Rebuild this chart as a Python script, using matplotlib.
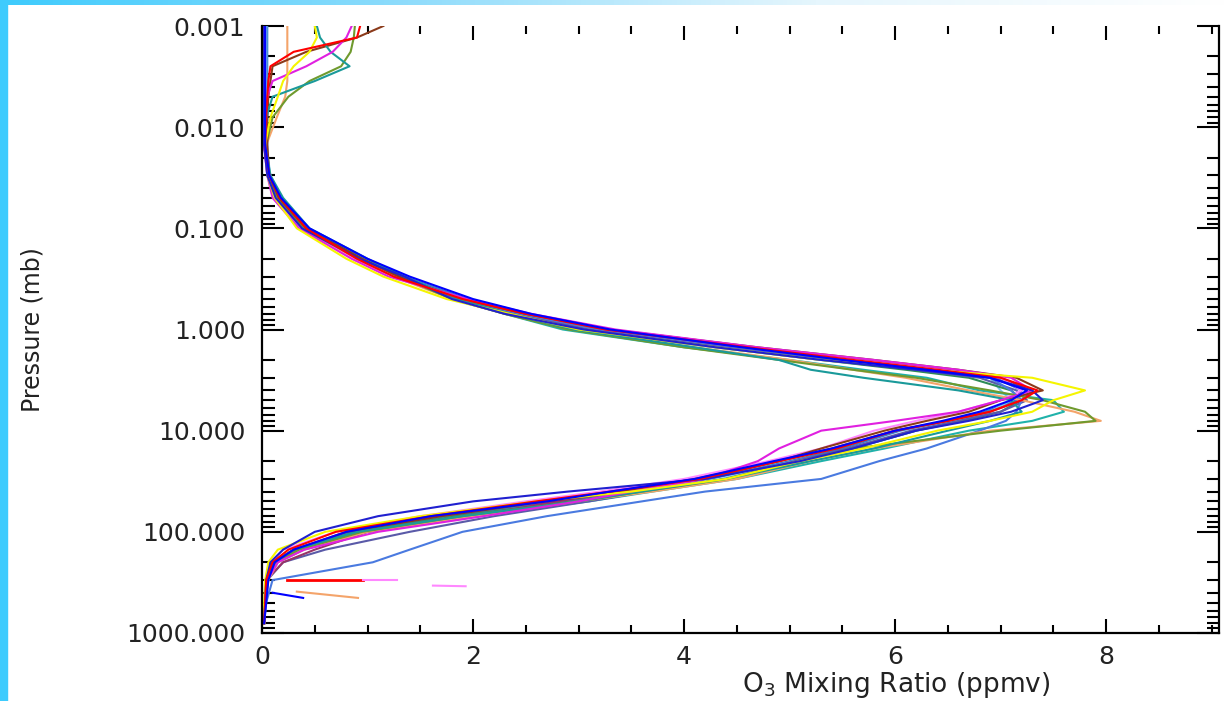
import matplotlib
matplotlib.use('Agg')
import matplotlib.pyplot as plt
import numpy as np
from matplotlib.patches import Rectangle
from matplotlib.colors import LinearSegmentedColormap
from matplotlib.ticker import FixedLocator, LogLocator, NullFormatter, MultipleLocator

# pressure levels (mb) shared by all profiles
pressure = [0.001, 0.0013, 0.0018, 0.0025, 0.0035, 0.005, 0.008, 0.015,
            0.03, 0.05, 0.1, 0.2, 0.3, 0.5, 0.7,
            1.0, 1.5, 2.0, 2.5, 3.0, 4.0, 5.0, 6.5, 8.0,
            10, 15, 20, 30, 40, 50, 70, 100, 150, 200, 300, 500, 800]

# O3 mixing ratio (ppmv) for each profile
o3_red = [0.93, 0.90, 0.30, 0.08, 0.06, 0.05, 0.04, 0.03,
          0.07, 0.17, 0.42, 0.90, 1.25, 1.90, 2.50,
          3.25, 4.60, 5.60, 6.40, 7.00, 7.35, 7.20, 6.90, 6.50,
          6.00, 5.45, 4.90, 4.15, 3.30, 2.60, 1.60, 0.70, 0.25, 0.10, 0.04, 0.03, 0.02]
o3_blue = [0.03, 0.03, 0.03, 0.03, 0.03, 0.03, 0.03, 0.03,
           0.07, 0.18, 0.45, 1.00, 1.40, 2.00, 2.55,
           3.30, 4.55, 5.50, 6.30, 6.90, 7.25, 7.10, 6.80, 6.45,
           6.00, 5.40, 4.85, 4.10, 3.30, 2.70, 1.60, 0.80, 0.30, 0.12, 0.06, 0.04, 0.02]
o3_blue2 = [0.02, 0.02, 0.02, 0.02, 0.02, 0.02, 0.02, 0.02,
            0.05, 0.13, 0.38, 0.92, 1.35, 1.80, 2.30,
            3.05, 4.30, 5.30, 6.20, 6.90, 7.30, 7.40, 7.10, 6.70,
            6.20, 5.60, 5.10, 4.20, 2.90, 2.00, 1.10, 0.50, 0.20, 0.08, 0.04, 0.03, 0.02]
o3_yellow = [0.50, 0.52, 0.45, 0.30, 0.20, 0.15, 0.08, 0.03,
             0.05, 0.12, 0.33, 0.80, 1.15, 1.75, 2.35,
             3.00, 4.30, 5.30, 6.30, 7.30, 7.80, 7.50, 7.30, 6.90,
             6.40, 5.70, 5.10, 4.40, 3.50, 2.60, 1.50, 0.60, 0.15, 0.06, 0.03, 0.02, 0.02]
o3_magenta = [0.85, 0.80, 0.67, 0.42, 0.10, 0.05, 0.03, 0.02,
              0.05, 0.10, 0.35, 0.85, 1.20, 1.95, 2.55,
              3.35, 4.70, 5.80, 6.60, 7.10, 7.30, 7.00, 6.60, 6.00,
              5.30, 4.90, 4.70, 4.20, 3.50, 3.00, 2.10, 1.10, 0.40, 0.15, 0.05, 0.03, 0.02]
o3_teal = [0.52, 0.55, 0.65, 0.83, 0.50, 0.10, 0.04, 0.03,
           0.08, 0.20, 0.45, 1.00, 1.35, 1.85, 2.35,
           2.95, 4.10, 4.90, 5.20, 5.70, 6.60, 7.10, 7.20, 6.90,
           6.50, 5.80, 5.20, 4.40, 3.60, 3.00, 1.90, 0.90, 0.30, 0.12, 0.05, 0.03, 0.02]
o3_brown = [1.15, 0.90, 0.42, 0.10, 0.08, 0.06, 0.05, 0.05,
            0.07, 0.16, 0.42, 0.95, 1.30, 1.90, 2.50,
            3.30, 4.70, 5.80, 6.60, 7.15, 7.40, 7.00, 6.70, 6.30,
            5.90, 5.30, 4.90, 4.10, 3.40, 2.70, 1.70, 0.80, 0.30, 0.10, 0.04, 0.03, 0.02]
o3_olive = [0.88, 0.87, 0.84, 0.75, 0.45, 0.25, 0.10, 0.04,
            0.06, 0.15, 0.40, 0.95, 1.30, 1.80, 2.30,
            2.90, 4.00, 4.90, 5.60, 6.20, 6.90, 7.40, 7.80, 7.90,
            7.00, 5.60, 5.10, 4.40, 3.60, 3.00, 1.90, 0.95, 0.35, 0.13, 0.05, 0.03, 0.02]
o3_peach = [0.24, 0.24, 0.24, 0.24, 0.24, 0.22, 0.14, 0.04,
            0.06, 0.14, 0.38, 0.90, 1.25, 1.80, 2.30,
            2.95, 4.10, 5.00, 5.60, 6.10, 6.70, 7.20, 7.70, 7.95,
            6.90, 5.80, 5.20, 4.50, 3.70, 3.00, 2.00, 1.00, 0.40, 0.15, 0.06, 0.03, 0.02]
o3_skyblue = [0.04, 0.04, 0.04, 0.04, 0.04, 0.04, 0.04, 0.04,
              0.08, 0.18, 0.43, 0.98, 1.33, 1.88, 2.45,
              3.15, 4.45, 5.45, 6.30, 6.90, 7.00, 7.10, 6.90, 6.60,
              6.20, 5.60, 5.05, 4.35, 3.60, 3.00, 2.00, 1.00, 0.40, 0.15, 0.06, 0.03, 0.02]
o3_cornflower = [0.03, 0.03, 0.03, 0.03, 0.03, 0.03, 0.03, 0.03,
                 0.07, 0.16, 0.42, 0.97, 1.32, 1.90, 2.45,
                 3.20, 4.50, 5.50, 6.30, 6.90, 7.10, 7.20, 7.15, 7.05,
                 6.80, 6.30, 5.85, 5.30, 4.20, 3.60, 2.70, 1.90, 1.40, 1.05, 0.10, 0.04, 0.02]
o3_pink = [0.02, 0.02, 0.02, 0.02, 0.02, 0.02, 0.02, 0.02,
           0.05, 0.12, 0.36, 0.88, 1.25, 1.90, 2.50,
           3.30, 4.65, 5.70, 6.50, 7.00, 7.20, 7.00, 6.60, 6.20,
           5.80, 5.30, 4.80, 4.00, 3.20, 2.50, 1.50, 0.70, 0.20, 0.08, 0.04, 0.03, 0.02]
o3_purple = [0.02, 0.02, 0.02, 0.02, 0.02, 0.02, 0.02, 0.02,
             0.06, 0.15, 0.40, 0.95, 1.30, 1.90, 2.50,
             3.20, 4.50, 5.60, 6.50, 7.00, 7.30, 7.20, 6.90, 6.50,
             6.00, 5.40, 4.90, 4.20, 3.40, 2.80, 2.00, 1.00, 0.50, 0.20, 0.04, 0.03, 0.02]
o3_slate = [0.02, 0.02, 0.02, 0.02, 0.02, 0.02, 0.02, 0.02,
            0.06, 0.16, 0.41, 0.96, 1.30, 1.85, 2.40,
            3.10, 4.40, 5.40, 6.20, 6.80, 7.15, 7.25, 7.00, 6.60,
            6.15, 5.55, 5.05, 4.40, 3.65, 3.10, 2.20, 1.40, 0.60, 0.20, 0.05, 0.03, 0.02]
o3_green = [0.02, 0.02, 0.02, 0.02, 0.02, 0.02, 0.02, 0.02,
            0.06, 0.14, 0.39, 0.93, 1.28, 1.82, 2.35,
            3.00, 4.30, 5.30, 6.10, 6.70, 7.10, 7.20, 7.00, 6.65,
            6.20, 5.60, 5.10, 4.40, 3.60, 2.95, 1.85, 0.90, 0.32, 0.12, 0.05, 0.03, 0.02]
o3_seagreen = [0.02, 0.02, 0.02, 0.02, 0.02, 0.02, 0.02, 0.02,
               0.07, 0.17, 0.44, 0.98, 1.32, 1.82, 2.30,
               2.85, 4.00, 5.00, 5.70, 6.30, 6.80, 7.50, 7.60, 7.30,
               6.70, 5.90, 5.30, 4.50, 3.70, 3.10, 2.00, 1.00, 0.35, 0.14, 0.05, 0.03, 0.02]
o3_steelblue = [0.05, 0.05, 0.05, 0.05, 0.05, 0.05, 0.05, 0.05,
                0.06, 0.15, 0.41, 0.97, 1.35, 1.95, 2.50,
                3.25, 4.55, 5.55, 6.35, 6.95, 7.20, 7.15, 6.85, 6.50,
                6.05, 5.50, 5.00, 4.25, 3.45, 2.85, 1.75, 0.85, 0.30, 0.12, 0.05, 0.03, 0.02]

profiles = [
    (o3_steelblue, '#3a7fc8'), (o3_skyblue, '#7ec8e8'), (o3_green, '#2e8b57'),
    (o3_seagreen, '#20b2aa'), (o3_slate, '#5a5aa8'), (o3_purple, '#993366'),
    (o3_pink, '#ff88ff'), (o3_cornflower, '#4a7ae0'), (o3_peach, '#f4a46a'),
    (o3_olive, '#6f9a2e'), (o3_brown, '#8b3a1a'), (o3_teal, '#1a9a9a'),
    (o3_magenta, '#e020e0'), (o3_yellow, '#f5f500'), (o3_blue2, '#2020d0'),
    (o3_red, '#ff0000'), (o3_blue, '#0000ff'),
]

# stray near-surface segments
red_tail_p, red_tail_x = [298, 298], [0.24, 0.96]
pink_tail_p, pink_tail_x = [300, 300], [0.96, 1.28]
pink_tail2_p, pink_tail2_x = [340, 345], [1.62, 1.93]
peach_tail_p, peach_tail_x = [390, 450], [0.33, 0.91]
blue_tail_p, blue_tail_x = [400, 450], [0.10, 0.39]

ytick_vals = [0.001, 0.01, 0.1, 1, 10, 100, 1000]
ytick_labels = ['0.001', '0.010', '0.100', '1.000', '10.000', '100.000', '1000.000']
xtick_vals = [0, 2, 4, 6, 8]

W, H = 1229, 701
fig = plt.figure(figsize=(W / 100, H / 100), dpi=100)

# cyan frame on the left and top
fig.patches.append(Rectangle((0, 0), 7 / W, 1, transform=fig.transFigure,
                             color='#3ecbfd', zorder=5))
bar = fig.add_axes([0, 1 - 5 / H, 1, 5 / H])
cmap = LinearSegmentedColormap.from_list('bar', ['#3ecbfd', '#8fdcfb', '#e6f6fd', '#ffffff'])
bar.imshow(np.linspace(0, 1, 256)[None, :], aspect='auto', cmap=cmap)
bar.axis('off')

ax = fig.add_axes([262 / W, 1 - 633 / H, (1219 - 262) / W, (633 - 26) / H])

for values, color in profiles:
    ax.plot(values, pressure, color=color, lw=1.5)

ax.plot(red_tail_x, red_tail_p, color='#ff0000', lw=2)
ax.plot(pink_tail_x, pink_tail_p, color='#ff88ff', lw=1.5)
ax.plot(pink_tail2_x, pink_tail2_p, color='#ff88ff', lw=1.5)
ax.plot(peach_tail_x, peach_tail_p, color='#f4a46a', lw=1.5)
ax.plot(blue_tail_x, blue_tail_p, color='#0000ff', lw=1.5)

ax.set_yscale('log')
ax.set_ylim(1000, 0.001)
ax.set_xlim(0, 9.07)

ax.yaxis.set_major_locator(FixedLocator(ytick_vals))
ax.set_yticklabels(ytick_labels)
ax.yaxis.set_minor_locator(LogLocator(base=10, subs=np.arange(2, 10)))
ax.yaxis.set_minor_formatter(NullFormatter())
ax.set_xticks(xtick_vals)
ax.xaxis.set_minor_locator(MultipleLocator(0.5))

for s in ax.spines.values():
    s.set_linewidth(1.6)
ax.spines['top'].set_visible(False)

ax.tick_params(axis='y', which='major', direction='in', length=16, width=1.5,
               left=True, right=True, labelsize=18, pad=12, labelcolor='#222222')
ax.tick_params(axis='y', which='minor', direction='in', length=9, width=1.5,
               left=True, right=True)
ax.tick_params(axis='x', which='major', direction='in', length=10, width=1.5,
               top=True, bottom=True, labelsize=18, pad=9, labelcolor='#222222')
ax.tick_params(axis='x', which='minor', direction='in', length=6, width=1.5,
               top=True, bottom=True)

fig.text(896 / W, 1 - 685 / H, 'O$_3$ Mixing Ratio (ppmv)', ha='center', va='center',
         fontsize=19, color='#222222')
fig.text(33 / W, 1 - 330 / H, 'Pressure (mb)', ha='center', va='center',
         rotation=90, fontsize=17, color='#222222')

fig.savefig('out.png', dpi=100)
